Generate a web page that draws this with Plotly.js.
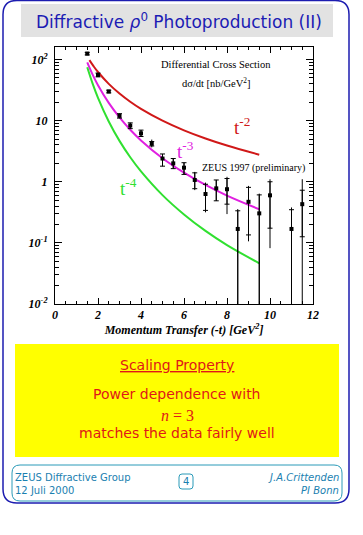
<!DOCTYPE html>
<html>
<head>
<meta charset="utf-8">
<script src="https://cdn.plot.ly/plotly-3.0.1.min.js"></script>
<style>html,body{margin:0;padding:0;background:#fff;}#chart{width:363px;height:535px;}</style>
</head>
<body>
<div id="chart"></div>
<script>
// ---- data ----
const t        = [1.5, 2.0, 2.5, 3.0, 3.5, 4.0, 4.5, 5.0, 5.5, 6.0, 6.5, 7.0, 7.5, 8.0, 8.5, 9.0, 9.5, 10.0, 11.0, 11.5];
const sigma    = [125, 56, 30, 12, 8.3, 6.2, 4.2, 2.4, 2.0, 1.7, 1.07, 0.63, 0.78, 0.755, 0.169, 0.47, 0.304, 0.60, 0.169, 0.43];
const totUp    = [6, 4, 1.5, 1.0, 0.9, 0.8, 0.7, 0.45, 0.4, 0.35, 0.38, 0.34, 0.29, 0.45, 0.188, 0.385, 0.336, 0.5, 0.211, 0.67];
const totDown  = [6, 4, 1.5, 1.0, 0.9, 0.7, 0.55, 0.6, 0.36, 0.38, 0.34, 0.314, 0.292, 0.459, 0.1685, 0.364, 0.3035, 0.518, 0.1685, 0.4295];
const statUp   = [6, 4, 1.5, 1.0, 0.9, 0.8, 0.35, 0.45, 0.4, 0.35, 0.33, 0.28, 0.29, 0.375, 0.166, 0.34, 0.306, 0.40, 0.18, 0.297];
const statDown = [6, 4, 1.5, 1.0, 0.9, 0.7, 0.35, 0.6, 0.36, 0.38, 0.30, 0.29, 0.292, 0.325, 0.1685, 0.335, 0.3035, 0.426, 0.1685, 0.304];

const tCurve2 = [1.6, 1.8, 2.0, 2.5, 3.0, 3.5, 4.0, 5.0, 6.0, 7.0, 8.0, 9.5];
const curveT2 = [97.7, 77.2, 62.5, 40, 27.8, 20.4, 15.6, 10, 6.94, 5.10, 3.91, 2.77];
const tCurve  = [1.5, 1.75, 2.0, 2.5, 3.0, 3.5, 4.0, 5.0, 6.0, 7.0, 8.0, 9.5];
const curveT3 = [90, 56.7, 38, 19.5, 11.3, 7.1, 4.75, 2.43, 1.41, 0.886, 0.594, 0.355];
const curveT4 = [74.7, 40.3, 23.6, 9.7, 4.67, 2.52, 1.48, 0.605, 0.292, 0.157, 0.092, 0.0464];

const yTickVals = [0.01, 0.1, 1, 10, 100];
const yTickText = ['10<sup>-2</sup>', '10<sup>-1</sup>', '1', '10', '10<sup>2</sup>'];
const yMinor = [];
[0.01, 0.1, 1, 10, 100].forEach(d => { for (let k = 2; k <= 9; k++) yMinor.push(d * k); });

// ---- layout helpers (pixel -> paper) ----
const L = 55, R = 313, T = 47, B = 304;
const px = x => (x - L) / (R - L);
const py = y => (B - y) / (B - T);
function rr(x0, y0, x1, y1, r) {
  return `M${px(x0 + r)},${py(y0)} L${px(x1 - r)},${py(y0)} Q${px(x1)},${py(y0)} ${px(x1)},${py(y0 + r)} ` +
         `L${px(x1)},${py(y1 - r)} Q${px(x1)},${py(y1)} ${px(x1 - r)},${py(y1)} ` +
         `L${px(x0 + r)},${py(y1)} Q${px(x0)},${py(y1)} ${px(x0)},${py(y1 - r)} ` +
         `L${px(x0)},${py(y0 + r)} Q${px(x0)},${py(y0)} ${px(x0 + r)},${py(y0)} Z`;
}
function ann(text, x, y, opts) {
  return Object.assign({xref: 'paper', yref: 'paper', x: px(x), y: py(y), text: text, showarrow: false,
    xanchor: 'center', yanchor: 'middle'}, opts || {});
}

const serif = 'Liberation Serif, Times New Roman, serif';
const sans = 'DejaVu Sans, Verdana, sans-serif';

const traces = [
  {x: tCurve2, y: curveT2, mode: 'lines', line: {color: '#d01818', width: 2, shape: 'spline'}, hoverinfo: 'skip'},
  {x: tCurve, y: curveT3, mode: 'lines', line: {color: '#e020e0', width: 2, shape: 'spline'}, hoverinfo: 'skip'},
  {x: tCurve, y: curveT4, mode: 'lines', line: {color: '#30e030', width: 2, shape: 'spline'}, hoverinfo: 'skip'},
  {x: t, y: sigma, mode: 'markers', marker: {color: 'rgba(0,0,0,0)', size: 1},
   error_y: {type: 'data', symmetric: false, array: totUp, arrayminus: totDown, color: '#000', thickness: 1, width: 0}},
  {x: t, y: sigma, mode: 'markers', marker: {color: '#000', size: 4, symbol: 'square'},
   error_y: {type: 'data', symmetric: false, array: statUp, arrayminus: statDown, color: '#000', thickness: 1, width: 2.5}}
];

const layout = {
  width: 363, height: 535,
  margin: {l: L, r: 363 - R, t: T, b: 535 - B, pad: 0},
  paper_bgcolor: '#fff', plot_bgcolor: '#fff',
  showlegend: false,
  xaxis: {
    range: [0, 12], tickmode: 'linear', tick0: 0, dtick: 2,
    ticks: 'inside', ticklen: 6, tickcolor: '#000', tickwidth: 1,
    minor: {ticks: 'inside', dtick: 0.5, tick0: 0, ticklen: 3, tickcolor: '#000'},
    showline: true, linecolor: '#000', linewidth: 1, mirror: 'allticks',
    showgrid: false, zeroline: false,
    tickfont: {family: serif, size: 12, weight: 'bold', style: 'italic', color: '#000'},
    title: {text: 'Momentum Transfer (-t) [GeV<sup>2</sup>]', standoff: 4,
            font: {family: serif, size: 12, weight: 'bold', style: 'italic', color: '#000'}}
  },
  yaxis: {
    type: 'log', range: [-2, 2.205],
    tickmode: 'array', tickvals: yTickVals, ticktext: yTickText,
    ticks: 'inside', ticklen: 7, tickcolor: '#000', tickwidth: 1,
    minor: {ticks: 'inside', tickmode: 'array', tickvals: yMinor, ticklen: 4, tickcolor: '#000'},
    showline: true, linecolor: '#000', linewidth: 1, mirror: 'allticks',
    showgrid: false, zeroline: false, ticklabelstandoff: 4,
    tickfont: {family: serif, size: 12, weight: 'bold', style: 'italic', color: '#000'}
  },
  shapes: [
    {type: 'path', xref: 'paper', yref: 'paper', path: rr(3, 0.5, 349, 503, 14), line: {color: '#1c1cb0', width: 1.5}, layer: 'below'},
    {type: 'rect', xref: 'paper', yref: 'paper', x0: px(21), x1: px(333), y0: py(4), y1: py(37), fillcolor: '#e2e2e2', line: {width: 0}, layer: 'below'},
    {type: 'rect', xref: 'paper', yref: 'paper', x0: px(15), x1: px(339), y0: py(344), y1: py(457), fillcolor: '#ffff00', line: {width: 0}, layer: 'below'},
    {type: 'path', xref: 'paper', yref: 'paper', path: rr(12, 465, 342, 501, 8), line: {color: '#2a9ab8', width: 1}, layer: 'below'},
    {type: 'path', xref: 'paper', yref: 'paper', path: rr(179, 474, 193, 489, 3), line: {color: '#2a9ab8', width: 1}, layer: 'below'}
  ],
  annotations: [
    ann('Diffractive <i>ρ</i><sup>0</sup> Photoproduction (II)', 179, 21, {font: {family: sans, size: 17, color: '#1c1cb4'}}),
    ann('Differential Cross Section', 216, 64, {font: {family: serif, size: 10.5, color: '#000'}}),
    ann('dσ/dt [nb/GeV<sup>2</sup>]', 216, 82, {font: {family: serif, size: 10.5, color: '#000'}}),
    ann('ZEUS 1997 (preliminary)', 253, 168, {font: {family: serif, size: 10, color: '#000'}}),
    ann('t<sup>-2</sup>', 242, 126, {font: {family: serif, size: 19, color: '#d01818'}}),
    ann('t<sup>-3</sup>', 185, 150, {font: {family: serif, size: 19, color: '#e020e0'}}),
    ann('t<sup>-4</sup>', 128, 187, {font: {family: serif, size: 19, color: '#30e030'}}),
    ann('<u>Scaling Property</u>', 177, 365, {font: {family: sans, size: 14, color: '#e01818'}}),
    ann('Power dependence with', 177, 394, {font: {family: sans, size: 14, color: '#e01818'}}),
    ann('<i>n</i> = 3', 177, 415, {font: {family: serif, size: 16, color: '#e01818'}}),
    ann('matches the data fairly well', 177, 433, {font: {family: sans, size: 14, color: '#e01818'}}),
    ann('ZEUS Diffractive Group', 13, 477, {xanchor: 'left', font: {family: sans, size: 10, color: '#1a80b0'}}),
    ann('12 Juli 2000', 13, 490, {xanchor: 'left', font: {family: sans, size: 10, color: '#1a80b0'}}),
    ann('4', 186, 481.5, {font: {family: sans, size: 10, color: '#1a80b0'}}),
    ann('<i>J.A.Crittenden</i>', 341, 477, {xanchor: 'right', font: {family: sans, size: 10, color: '#1a80b0'}}),
    ann('<i>PI Bonn</i>', 341, 490, {xanchor: 'right', font: {family: sans, size: 10, color: '#1a80b0'}})
  ]
};

Plotly.newPlot('chart', traces, layout, {staticPlot: true, displayModeBar: false});
</script>
</body>
</html>
